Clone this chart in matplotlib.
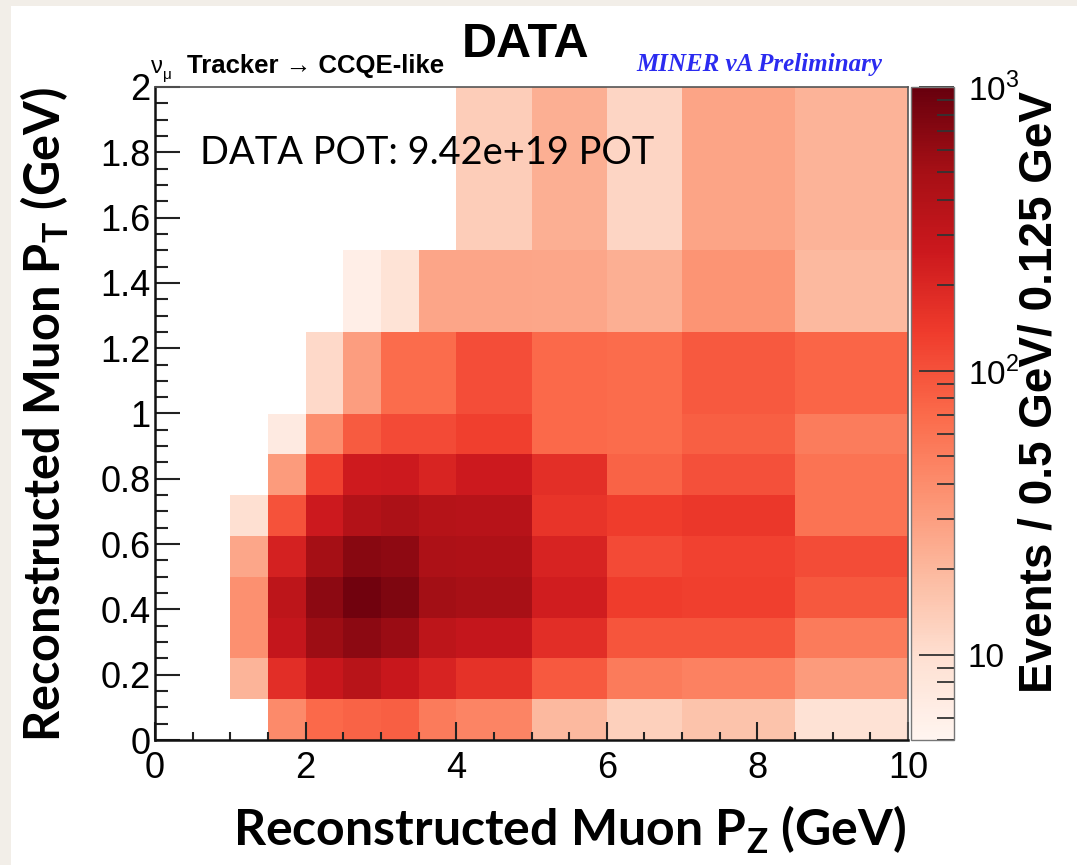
import numpy as np
import matplotlib
matplotlib.use('Agg')
import matplotlib.pyplot as plt
from matplotlib.colors import LogNorm
from matplotlib.patches import Rectangle
from matplotlib.ticker import MultipleLocator, FuncFormatter, FixedLocator, FixedFormatter, LogLocator, NullFormatter

plt.rcParams['font.family'] = ['Liberation Sans', 'DejaVu Sans']
plt.rcParams['mathtext.fontset'] = 'custom'
plt.rcParams['mathtext.rm'] = 'Liberation Sans'
plt.rcParams['mathtext.bf'] = 'Lato:bold'

# bin edges (GeV)
pz_edges = [0, 1, 1.5, 2, 2.5, 3, 3.5, 4, 5, 6, 7, 8.5, 10]
pt_edges = [0, 0.125, 0.25, 0.375, 0.5, 0.625, 0.75, 0.875, 1.0, 1.25, 1.5, 2.0]

# events per bin, one list per pT row (bottom -> top), 0 = empty bin
row_00 = [0, 0, 42, 72, 78, 82, 53, 46, 19.5, 13, 16.5, 9.3]
row_01 = [0, 21, 175, 280, 370, 280, 215, 165, 90, 54, 48, 32]
row_02 = [0, 38, 300, 560, 670, 580, 340, 300, 175, 95, 95, 54]
row_03 = [0, 38, 340, 670, 890, 770, 516, 490, 240, 135, 129, 91]
row_04 = [0, 26.5, 225, 510, 690, 650, 440, 430, 215, 111, 125, 108]
row_05 = [0, 9.7, 99, 260, 400, 450, 390, 375, 156, 137, 147, 60]
row_06 = [0, 0, 32, 127, 250, 260, 210, 260, 172, 77, 102, 60]
row_07 = [0, 0, 7.1, 39, 87, 111, 111, 129, 71, 68, 83, 52]
row_08 = [0, 0, 0, 11, 30.5, 68, 68, 105, 72, 68, 89, 76]
row_09 = [0, 0, 0, 0, 6.2, 9.1, 27, 27, 26.5, 22.8, 35, 19.5]
row_10 = [0, 0, 0, 0, 0, 0, 0, 13.6, 23, 11.8, 27.6, 21.4]

events = np.array([row_00, row_01, row_02, row_03, row_04, row_05,
                   row_06, row_07, row_08, row_09, row_10])

W, H = 1077, 865
fig = plt.figure(figsize=(W / 100, H / 100), dpi=100)
fig.patch.set_facecolor('#f2eee8')
fig.add_artist(Rectangle((11 / W, 0), 1 - 11 / W, 1 - 6 / H, transform=fig.transFigure,
                         facecolor='white', edgecolor='none', zorder=0))

ax = fig.add_axes([155 / W, 1 - 740 / H, (908 - 155) / W, (740 - 87) / H])
norm = LogNorm(vmin=5, vmax=1000)
mesh = ax.pcolormesh(pz_edges, pt_edges, np.ma.masked_less_equal(events, 0),
                     cmap='Reds', norm=norm)
ax.set_xlim(0, 10)
ax.set_ylim(0, 2)

ax.xaxis.set_major_locator(MultipleLocator(2))
ax.xaxis.set_minor_locator(MultipleLocator(0.5))
ax.yaxis.set_major_locator(MultipleLocator(0.2))
ax.yaxis.set_minor_locator(MultipleLocator(0.05))
ax.yaxis.set_major_formatter(FuncFormatter(lambda v, p: '%g' % round(v, 2)))
ax.xaxis.set_major_formatter(FuncFormatter(lambda v, p: '%g' % v))
ax.tick_params(which='both', direction='in', top=False, right=False, width=1.5,
               labelsize=26, color='#222222')
ax.tick_params(axis='y', which='major', length=18, pad=3)
ax.tick_params(axis='y', which='minor', length=9)
ax.tick_params(axis='x', which='major', length=13, pad=8)
ax.tick_params(axis='x', which='minor', length=6)
for side in ['left', 'bottom']:
    ax.spines[side].set_linewidth(1.8)
    ax.spines[side].set_color('#111111')
for side in ['top', 'right']:
    ax.spines[side].set_linewidth(1.2)
    ax.spines[side].set_color('#555555')

# colour scale
cax = fig.add_axes([911 / W, 1 - 740 / H, 43 / W, (740 - 87) / H])
cb = fig.colorbar(mesh, cax=cax)
cb.outline.set_linewidth(1.0)
cb.outline.set_edgecolor('#777777')
cax.yaxis.set_major_locator(FixedLocator([10, 100, 1000]))
cax.yaxis.set_major_formatter(FixedFormatter(['10', r'$10^{2}$', r'$10^{3}$']))
cax.yaxis.set_minor_locator(LogLocator(base=10, subs=np.arange(2, 10)))
cax.yaxis.set_minor_formatter(NullFormatter())
cax.tick_params(which='both', direction='in', right=True, left=False, width=1.3,
                labelsize=24, color='#333333', pad=10)
cax.tick_params(which='major', length=25)
cax.tick_params(which='minor', length=12)

fig.text(1039 / W, 1 - 392 / H, 'Events / 0.5 GeV/ 0.125 GeV', rotation=90,
         fontsize=33, fontweight='bold', ha='center', va='center')

fig.text(45 / W, 1 - 415 / H, r'Reconstructed Muon P$_\mathbf{T}$ (GeV)', rotation=90,
         family='Lato', fontweight='bold', fontsize=35, ha='center', va='center')
fig.text(570 / W, 1 - 830 / H, r'Reconstructed Muon P$_\mathbf{Z}$ (GeV)',
         family='Lato', fontweight='bold', fontsize=36, ha='center', va='center')

fig.text(526 / W, 1 - 57 / H, 'DATA', fontsize=35, fontweight='bold',
         ha='center', va='baseline')
fig.text(151 / W, 1 - 73 / H, '\u03bd', fontsize=17, ha='left', va='baseline')
fig.text(163 / W, 1 - 79 / H, '\u03bc', fontsize=11, ha='left', va='baseline')
fig.text(187 / W, 1 - 73 / H, 'Tracker \u2192 CCQE-like', fontsize=18.5,
         fontweight='bold', ha='left', va='baseline')
fig.text(636 / W, 1 - 71 / H, 'MINER \u03bdA Preliminary', family='Liberation Serif',
         style='italic', fontweight='bold', fontsize=18, color='#2b2bf0',
         ha='left', va='baseline')
fig.text(200 / W, 1 - 164 / H, 'DATA POT: 9.42e+19 POT', family='Lato',
         fontsize=27.4, ha='left', va='baseline')

fig.savefig('out.png', dpi=100)
